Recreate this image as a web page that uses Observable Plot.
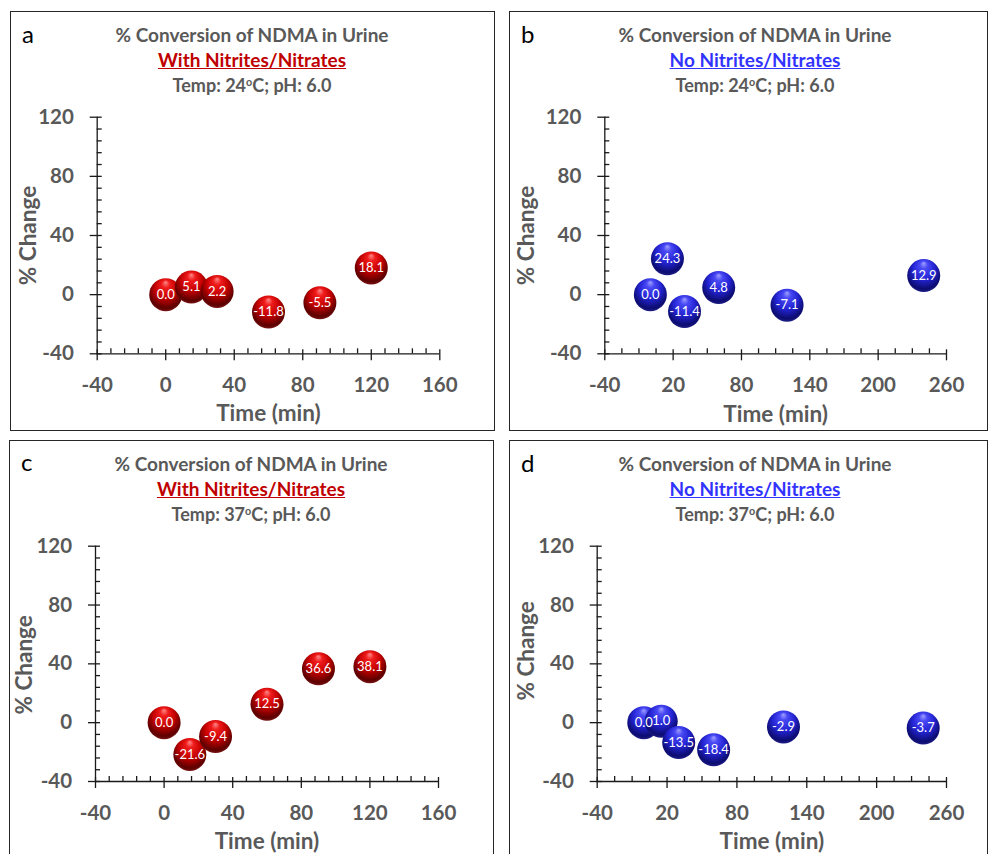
<!DOCTYPE html>
<html><head><meta charset="utf-8">
<script src="https://cdn.jsdelivr.net/npm/d3@7"></script>
<script src="https://cdn.jsdelivr.net/npm/@observablehq/plot@0.6"></script>
<style>
html,body{margin:0;padding:0;background:#fff;}
#page{position:relative;width:989px;height:854px;overflow:hidden;background:#fff;font-family:Lato,sans-serif;}
.panel{position:absolute;box-sizing:border-box;border:1px solid #262626;}
.wrap{position:absolute;}
.wrap svg{display:block;}
.t{position:absolute;white-space:nowrap;transform:translateX(-50%);line-height:1.2;font-weight:700;}
.lbl{position:absolute;line-height:1.2;color:#000;white-space:nowrap;}
sup{font-size:0.6em;vertical-align:0.55em;line-height:0;}
</style></head><body>
<div id="page"></div>
<svg width="0" height="0" style="position:absolute"><defs>
<radialGradient id="redBall" cx="0.5" cy="0.42" r="0.6" fx="0.5" fy="0.12">
 <stop offset="0" stop-color="#ff8a8a"/>
 <stop offset="0.2" stop-color="#f01c1c"/>
 <stop offset="0.55" stop-color="#c40000"/>
 <stop offset="0.88" stop-color="#5c0000"/>
 <stop offset="1" stop-color="#801818"/>
</radialGradient>
<radialGradient id="blueBall" cx="0.5" cy="0.42" r="0.6" fx="0.5" fy="0.12">
 <stop offset="0" stop-color="#a0a0ff"/>
 <stop offset="0.2" stop-color="#4848f4"/>
 <stop offset="0.55" stop-color="#2424d4"/>
 <stop offset="0.88" stop-color="#0c0c70"/>
 <stop offset="1" stop-color="#22228c"/>
</radialGradient>
</defs></svg>
<script>
// ---- data ----
const timesRed = [0, 15, 30, 60, 90, 120];
const timesBlue = [0, 15, 30, 60, 120, 240];
const changeA = [0.0, 5.1, 2.2, -11.8, -5.5, 18.1];
const changeB = [0.0, 24.3, -11.4, 4.8, -7.1, 12.9];
const changeC = [0.0, -21.6, -9.4, 12.5, 36.6, 38.1];
const changeD = [0.0, 1.0, -13.5, -18.4, -2.9, -3.7];
const yTicks = [-40, 0, 40, 80, 120];
const xTicksRed = [-40, 0, 40, 80, 120, 160];
const xTicksBlue = [-40, 20, 80, 140, 200, 260];
const panelLetters = ["a", "b", "c", "d"];
const titleMain = "% Conversion of NDMA in Urine";
const subtitleRed = "With Nitrites/Nitrates";
const subtitleBlue = "No Nitrites/Nitrates";
const temps = ["24", "24", "37", "37"];
const xLabel = "Time (min)";
const yLabel = "% Change";

// ---- styles / layout ----
const gray = "#595959", red = "#c00000", blue = "#3333ff", axisColor = "#1a1a1a";
const FONT = "Lato, sans-serif";
const tickFs = 20.5, axisTitleFs = 22.5, titleFs = 19, tempFs = 18, valueFs = 13;
const minorStepY = 8, minorStepRed = 8, minorStepBlue = 15;

const layout = [
  {box: [10, 11, 485, 420], frame: [96.7, 439.3, 116.7, 353.3], letter: [22, 43.3], titleX: 252, titleY: [42.7, 67.5, 92.5], yLab: [-68.5, 0], xLabOff: 67.5},
  {box: [509, 11, 479, 420], frame: [604.3, 946, 116.7, 353.3], letter: [521, 43.3], titleX: 755, titleY: [42.7, 67.5, 92.5], yLab: [-78, 0], xLabOff: 68.4},
  {box: [9, 440, 485, 430], frame: [95, 438, 545.7, 781], letter: [21, 471.7], titleX: 251, titleY: [471.7, 496.7, 521.7], yLab: [-70.6, 1], xLabOff: 67},
  {box: [509, 440, 479, 430], frame: [596.7, 946, 545.7, 781], letter: [521, 472.3], titleX: 755, titleY: [471.7, 496.7, 521.7], yLab: [-70.2, -13], xLabOff: 67}
];

const panels = [
  {times: timesRed, change: changeA, xTicks: xTicksRed, step: minorStepRed, sub: subtitleRed, subColor: red, ball: "url(#redBall)"},
  {times: timesBlue, change: changeB, xTicks: xTicksBlue, step: minorStepBlue, sub: subtitleBlue, subColor: blue, ball: "url(#blueBall)"},
  {times: timesRed, change: changeC, xTicks: xTicksRed, step: minorStepRed, sub: subtitleRed, subColor: red, ball: "url(#redBall)"},
  {times: timesBlue, change: changeD, xTicks: xTicksBlue, step: minorStepBlue, sub: subtitleBlue, subColor: blue, ball: "url(#blueBall)"}
];

const page = document.getElementById("page");

function addDiv(cls, html, left, baseline, fs, color, weight) {
  const d = document.createElement("div");
  d.className = cls;
  d.innerHTML = html;
  d.style.left = left + "px";
  d.style.top = (baseline - 0.987 * fs) + "px";
  d.style.fontSize = fs + "px";
  d.style.color = color;
  if (weight) d.style.fontWeight = weight;
  page.appendChild(d);
  return d;
}

panels.forEach((p, i) => {
  const L = layout[i];
  const [bx, by, bw, bh] = L.box;
  const [fx0, fx1, fy0, fy1] = L.frame;

  const border = document.createElement("div");
  border.className = "panel";
  border.style.cssText += `left:${bx}px;top:${by}px;width:${bw}px;height:${bh}px;`;
  page.appendChild(border);

  const xDomain = [p.xTicks[0], p.xTicks[p.xTicks.length - 1]];
  const yDomain = [yTicks[0], yTicks[yTicks.length - 1]];
  const xMinor = d3.range(xDomain[0], xDomain[1] + 1, p.step).filter(v => !p.xTicks.includes(v));
  const yMinor = d3.range(yDomain[0], yDomain[1] + 1, minorStepY).filter(v => !yTicks.includes(v));
  const data = p.times.map((t, j) => ({time: t, change: p.change[j]}));

  const ruleStyle = {stroke: axisColor, strokeWidth: 1.3};
  const titleStyle = {fontSize: axisTitleFs, fontWeight: "bold", fill: gray, textAnchor: "middle", lineAnchor: "middle"};
  const chart = Plot.plot({
    width: bw, height: bh,
    marginLeft: fx0 - bx, marginRight: bx + bw - fx1,
    marginTop: fy0 - by, marginBottom: by + bh - fy1,
    x: {type: "linear", domain: xDomain},
    y: {type: "linear", domain: yDomain},
    style: {background: "transparent", overflow: "visible", fontFamily: FONT},
    marks: [
      Plot.ruleX(xMinor, {x: d => d, y1: yDomain[0], y2: yDomain[0], insetTop: -5, insetBottom: 0, ...ruleStyle}),
      Plot.ruleY(yMinor, {y: d => d, x1: xDomain[0], x2: xDomain[0], insetLeft: 0, insetRight: -5, ...ruleStyle}),
      Plot.ruleX(p.xTicks, {x: d => d, y1: yDomain[0], y2: yDomain[0], insetTop: -4, insetBottom: -7, ...ruleStyle}),
      Plot.ruleY(yTicks, {y: d => d, x1: xDomain[0], x2: xDomain[0], insetLeft: -7, insetRight: -5, ...ruleStyle}),
      Plot.ruleY([yDomain[0]], {x1: xDomain[0], x2: xDomain[1], ...ruleStyle}),
      Plot.ruleX([xDomain[0]], {y1: yDomain[0], y2: yDomain[1], ...ruleStyle}),
      Plot.axisX(p.xTicks, {tickSize: 0, tickPadding: 23.8, tickFormat: d => String(d), fontSize: tickFs, fontWeight: "bold", fill: gray, label: null}),
      Plot.axisY(yTicks, {tickSize: 0, tickPadding: 23.4, tickFormat: d => String(d), fontSize: tickFs, fontWeight: "bold", fill: gray, label: null}),
      Plot.text([xLabel], {frameAnchor: "bottom", dy: L.xLabOff - 0.32 * axisTitleFs, text: d => d, ...titleStyle}),
      Plot.text([yLabel], {frameAnchor: "left", dx: L.yLab[0], dy: L.yLab[1], rotate: -90, text: d => d, ...titleStyle}),
      Plot.dot(data, {x: "time", y: "change", r: 16.5, fill: p.ball, stroke: "none"}),
      Plot.text(data, {x: "time", y: "change", text: d => d.change.toFixed(1), fill: "white", fontSize: valueFs, fontFamily: FONT})
    ]
  });
  const wrap = document.createElement("div");
  wrap.className = "wrap";
  wrap.style.cssText += `left:${bx}px;top:${by}px;width:${bw}px;height:${bh}px;`;
  wrap.appendChild(chart);
  page.appendChild(wrap);

  // panel letter and titles
  addDiv("lbl", panelLetters[i], L.letter[0], L.letter[1], 24, "#000", 400);
  addDiv("t", titleMain, L.titleX, L.titleY[0], titleFs, gray);
  const s = addDiv("t", p.sub, L.titleX, L.titleY[1], titleFs, p.subColor);
  s.style.textDecoration = "underline";
  addDiv("t", `Temp: ${temps[i]}<sup>o</sup>C; pH: 6.0`, L.titleX, L.titleY[2], tempFs, gray);
});
</script>
</body></html>
